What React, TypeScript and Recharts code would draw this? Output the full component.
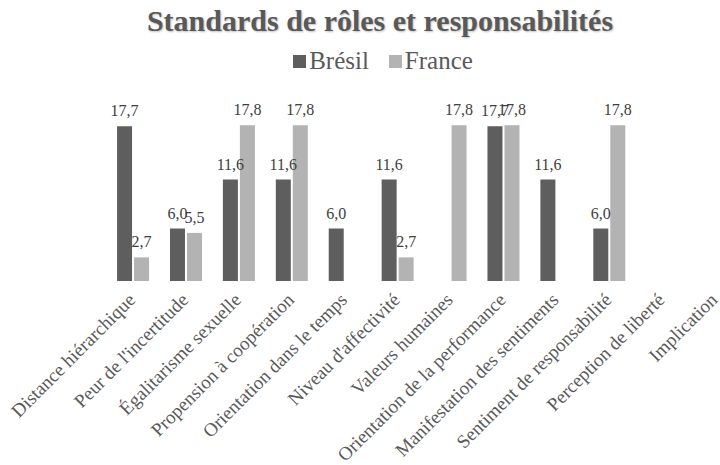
import { BarChart, Bar, XAxis, YAxis, LabelList } from 'recharts'

const categories = [
  'Distance hiérarchique',
  "Peur de l'incertitude",
  'Égalitarisme sexuelle',
  'Propension à coopération',
  'Orientation dans le temps',
  "Niveau d'affectivité",
  'Valeurs humaines',
  'Orientation de la performance',
  'Manifestation des sentiments',
  'Sentiment de responsabilité',
  'Perception de liberté',
  'Implication',
]
const bresil = [17.7, 6.0, 11.6, 11.6, 6.0, 11.6, null, 17.7, 11.6, 6.0, null, null]
const france = [2.7, 5.5, 17.8, 17.8, null, 2.7, 17.8, 17.8, null, 17.8, null, null]

const data = categories.map((name, i) => ({ name, bresil: bresil[i], france: france[i] }))

const DARK = '#5e5e5e'
const LIGHT = '#b3b3b3'
const TEXT = '#595959'
const FONT = "'Liberation Serif', 'DejaVu Serif', serif"

const fmt = (v: any) => (v == null ? '' : Number(v).toFixed(1).replace('.', ','))

function Tick({ x, y, payload }: any) {
  return (
    <text
      transform={`translate(${x + 3},${y + 12}) rotate(-45)`}
      textAnchor="end"
      fill={TEXT}
      fontSize={19}
      fontFamily={FONT}
    >
      {payload.value}
    </text>
  )
}

export default function App() {
  return (
    <div style={{ position: 'absolute', left: 0, top: 0, width: 760, height: 465, background: '#fff', fontFamily: FONT }}>
      <div style={{
        position: 'absolute', top: 4, left: 0, width: 760, textAlign: 'center', fontFamily: FONT,
        fontSize: 30, fontWeight: 'bold', color: TEXT, textShadow: '1px 1px 2px rgba(0,0,0,0.25)',
      }}>
        Standards de rôles et responsabilités
      </div>
      <div style={{
        position: 'absolute', top: 47, left: 0, width: 766, display: 'flex', justifyContent: 'center',
        gap: 20, fontSize: 25, color: TEXT, fontFamily: FONT,
      }}>
        <span style={{ display: 'flex', alignItems: 'center', gap: 3 }}>
          <span style={{ width: 13, height: 13, background: DARK, display: 'inline-block' }} />Brésil
        </span>
        <span style={{ display: 'flex', alignItems: 'center', gap: 3 }}>
          <span style={{ width: 13, height: 13, background: LIGHT, display: 'inline-block' }} />France
        </span>
      </div>
      <div style={{ position: 'absolute', left: 0, top: 0 }}>
        <BarChart
          width={760}
          height={465}
          data={data}
          margin={{ top: 106, right: 18, bottom: 0, left: 107 }}
          barGap={2}
          barCategoryGap="19%"
        >
          <XAxis dataKey="name" axisLine={false} tickLine={false} height={184} interval={0} tick={<Tick />} />
          <YAxis hide domain={[0, 20]} />
          <Bar dataKey="bresil" fill={DARK} isAnimationActive={false}>
            <LabelList dataKey="bresil" position="top" offset={10} formatter={fmt} fill="#404040" fontSize={16} fontFamily={FONT} />
          </Bar>
          <Bar dataKey="france" fill={LIGHT} isAnimationActive={false}>
            <LabelList dataKey="france" position="top" offset={10} formatter={fmt} fill="#404040" fontSize={16} fontFamily={FONT} />
          </Bar>
        </BarChart>
      </div>
    </div>
  )
}
